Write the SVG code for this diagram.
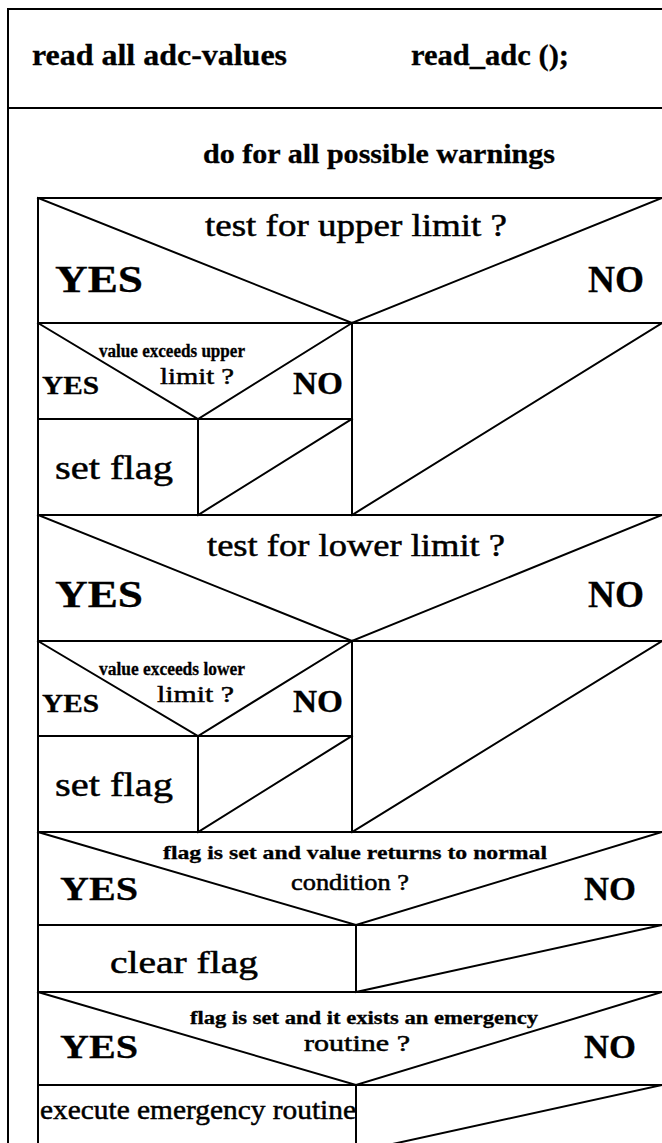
<svg xmlns="http://www.w3.org/2000/svg" width="662" height="1143" viewBox="0 0 662 1143">
<style>
.l{stroke:#000;stroke-width:2;fill:none;stroke-linecap:square}
text{font-family:"Liberation Serif","Times New Roman",serif;fill:#000;stroke:#000;stroke-width:0.5}
.b{font-weight:bold;stroke-width:0.3}
</style>
<rect width="662" height="1143" fill="#fff"/>
<g id="frame">
<path class="l" d="M8,9H662M8,9V1143M8,108H662M38,198H662M38,198V1143"/>
</g>
<g id="read-adc">
<text class="b" x="32" y="65" font-size="29" textLength="255" lengthAdjust="spacingAndGlyphs">read all adc-values</text>
<text class="b" x="411" y="65" font-size="29" textLength="158" lengthAdjust="spacingAndGlyphs">read_adc ();</text>
</g>
<g id="loop">
<text class="b" x="203" y="163" font-size="27" textLength="352" lengthAdjust="spacingAndGlyphs">do for all possible warnings</text>
</g>
<g id="dec-upper">
<path class="l" d="M38,198L352,323L662,198M38,323H662"/>
<text x="205" y="236" font-size="31" textLength="302" lengthAdjust="spacingAndGlyphs">test for upper limit ?</text>
<text class="b" x="55" y="292" font-size="37" textLength="88" lengthAdjust="spacingAndGlyphs">YES</text>
<text class="b" x="588" y="292" font-size="37" textLength="56" lengthAdjust="spacingAndGlyphs">NO</text>
</g>
<g id="dec-upper-exceed">
<path class="l" d="M38,323L198,419L352,323M38,419H352M352,323V515"/>
<text class="b" x="99" y="357" font-size="18" textLength="146" lengthAdjust="spacingAndGlyphs">value exceeds upper</text>
<text x="160" y="384" font-size="24" textLength="74" lengthAdjust="spacingAndGlyphs">limit ?</text>
<text class="b" x="42" y="394" font-size="25" textLength="57" lengthAdjust="spacingAndGlyphs">YES</text>
<text class="b" x="293" y="394" font-size="32" textLength="50" lengthAdjust="spacingAndGlyphs">NO</text>
</g>
<g id="set-flag-upper">
<path class="l" d="M198,419V515M198,515L352,419"/>
<text x="55" y="479" font-size="34" textLength="118" lengthAdjust="spacingAndGlyphs">set flag</text>
</g>
<g id="no-upper">
<path class="l" d="M352,515L662,323M38,515H662"/>
</g>
<g id="dec-lower">
<path class="l" d="M38,515L352,641L662,515M38,641H662"/>
<text x="207" y="556" font-size="31" textLength="298" lengthAdjust="spacingAndGlyphs">test for lower limit ?</text>
<text class="b" x="55" y="607" font-size="37" textLength="88" lengthAdjust="spacingAndGlyphs">YES</text>
<text class="b" x="588" y="607" font-size="37" textLength="56" lengthAdjust="spacingAndGlyphs">NO</text>
</g>
<g id="dec-lower-exceed">
<path class="l" d="M38,641L198,736L352,641M38,736H352M352,641V832"/>
<text class="b" x="99" y="675" font-size="18" textLength="146" lengthAdjust="spacingAndGlyphs">value exceeds lower</text>
<text x="157" y="702" font-size="24" textLength="77" lengthAdjust="spacingAndGlyphs">limit ?</text>
<text class="b" x="42" y="712" font-size="25" textLength="57" lengthAdjust="spacingAndGlyphs">YES</text>
<text class="b" x="293" y="712" font-size="32" textLength="50" lengthAdjust="spacingAndGlyphs">NO</text>
</g>
<g id="set-flag-lower">
<path class="l" d="M198,736V832M198,832L352,736"/>
<text x="55" y="796" font-size="34" textLength="118" lengthAdjust="spacingAndGlyphs">set flag</text>
</g>
<g id="no-lower">
<path class="l" d="M352,832L662,641M38,832H662"/>
</g>
<g id="dec-normal">
<path class="l" d="M38,832L356,925L662,832M38,925H662"/>
<text class="b" x="163" y="859" font-size="19" textLength="384" lengthAdjust="spacingAndGlyphs">flag is set and value returns to normal</text>
<text x="291" y="890" font-size="23" textLength="118" lengthAdjust="spacingAndGlyphs">condition ?</text>
<text class="b" x="60" y="900" font-size="34" textLength="78" lengthAdjust="spacingAndGlyphs">YES</text>
<text class="b" x="584" y="900" font-size="34" textLength="52" lengthAdjust="spacingAndGlyphs">NO</text>
</g>
<g id="clear-flag">
<path class="l" d="M356,925V992M356,992L662,925M38,992H662"/>
<text x="110" y="973" font-size="31" textLength="148" lengthAdjust="spacingAndGlyphs">clear flag</text>
</g>
<g id="dec-emergency">
<path class="l" d="M38,992L356,1085L662,992M38,1085H662"/>
<text class="b" x="190" y="1024" font-size="18" textLength="348" lengthAdjust="spacingAndGlyphs">flag is set and it exists an emergency</text>
<text x="304" y="1051" font-size="23" textLength="106" lengthAdjust="spacingAndGlyphs">routine ?</text>
<text class="b" x="60" y="1058" font-size="34" textLength="78" lengthAdjust="spacingAndGlyphs">YES</text>
<text class="b" x="584" y="1058" font-size="34" textLength="52" lengthAdjust="spacingAndGlyphs">NO</text>
</g>
<g id="execute">
<path class="l" d="M356,1085V1143M356,1152L662,1085"/>
<text x="40" y="1119" font-size="27" textLength="316" lengthAdjust="spacingAndGlyphs">execute emergency routine</text>
</g>
<g id="connectors"></g>
</svg>
